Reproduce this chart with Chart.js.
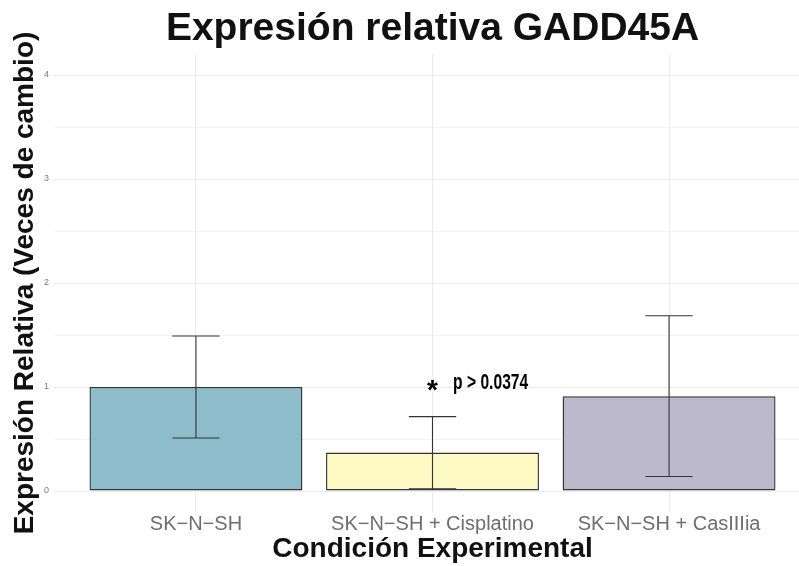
<!DOCTYPE html>
<html><head><meta charset="utf-8">
<script src="https://cdn.jsdelivr.net/npm/chart.js@4"></script>
<style>
html,body{margin:0;padding:0;overflow:hidden;background:#fff;width:799px;height:566px}
#wrap{position:absolute;left:0;top:0;width:811px;height:566px}
</style>
</head><body><div id="wrap"><canvas id="c" width="811" height="566"></canvas></div>
<script>
// ---- data ----
const categories = ['SK−N−SH', 'SK−N−SH + Cisplatino', 'SK−N−SH + CasIIIia'];
const meanValues = [1.00, 0.37, 0.91];
const errorLow = [0.51, 0.02, 0.14];
const errorHigh = [1.49, 0.715, 1.685];
const barColors = ['#8DBCCB', '#FFF9C4', '#BCB9CC'];
const yTickValues = [0, 0.5, 1, 1.5, 2, 2.5, 3, 3.5, 4];
const sigMark = '*';
const sigLabel = 'p > 0.0374';
const sigIndex = 1;
const chartTitle = 'Expresión relativa GADD45A';
const xTitle = 'Condición Experimental';
const yTitle = 'Expresión Relativa (Veces de cambio)';

const FONT = "'Liberation Sans', Arial, Helvetica, sans-serif";

const overlay = {
  id: 'overlay',
  afterDatasetsDraw(chart) {
    const {ctx, chartArea, scales: {x, y}} = chart;
    ctx.save();
    // error bars
    ctx.strokeStyle = '#333333';
    ctx.lineWidth = 1.1;
    const capHalf = x.getPixelForValue(1.1) - x.getPixelForValue(1);
    meanValues.forEach((v, i) => {
      const px = x.getPixelForValue(i + 1);
      const yl = y.getPixelForValue(errorLow[i]);
      const yh = y.getPixelForValue(errorHigh[i]);
      ctx.beginPath();
      ctx.moveTo(px, yl); ctx.lineTo(px, yh);
      ctx.moveTo(px - capHalf, yh); ctx.lineTo(px + capHalf, yh);
      ctx.moveTo(px - capHalf, yl); ctx.lineTo(px + capHalf, yl);
      ctx.stroke();
    });
    // significance annotation
    const ax = x.getPixelForValue(sigIndex + 1);
    const ay = y.getPixelForValue(1.04);
    ctx.fillStyle = '#000';
    ctx.font = `bold 28px ${FONT}`;
    ctx.textAlign = 'center';
    ctx.textBaseline = 'alphabetic';
    ctx.fillText(sigMark, ax, ay + 16);
    const tx = x.getPixelForValue(sigIndex + 1.087);
    const ty = y.getPixelForValue(0.98);
    ctx.save();
    ctx.translate(tx, ty);
    ctx.scale(0.71, 1);
    ctx.font = `bold 22px ${FONT}`;
    ctx.textAlign = 'left';
    ctx.fillText(sigLabel, 0, 0);
    ctx.restore();
    // title
    ctx.font = `bold 39px ${FONT}`;
    ctx.textAlign = 'center';
    ctx.fillStyle = '#111';
    ctx.fillText(chartTitle, (chartArea.left + chartArea.right) / 2, 39.5);
    ctx.restore();
  }
};

new Chart(document.getElementById('c'), {
  type: 'bar',
  data: {
    datasets: [{
      data: meanValues.map((v, i) => ({x: i + 1, y: v})),
      backgroundColor: barColors,
      borderColor: '#333333',
      borderWidth: 1.4,
      borderSkipped: false,
      categoryPercentage: 1,
      barPercentage: 0.9
    }]
  },
  options: {
    responsive: false,
    animation: false,
    layout: {padding: {top: 54.2, left: 0, right: 0, bottom: 0}},
    plugins: {legend: {display: false}, tooltip: {enabled: false}, title: {display: false}},
    scales: {
      x: {
        type: 'linear', min: 0.4, max: 3.6, offset: false,
        afterBuildTicks: s => { s.ticks = categories.map((c, i) => ({value: i + 1})); },
        afterFit: s => { s.height = 54.2; },
        ticks: {
          callback: v => categories[Math.round(v) - 1] || '',
          color: '#6e6e6e', font: {family: FONT, size: 20}, padding: 1,
          maxRotation: 0, autoSkip: false
        },
        grid: {color: '#EBEBEB', lineWidth: 1, drawTicks: false, offset: false},
        border: {display: false},
        title: {display: true, text: xTitle, color: '#111',
          font: {family: FONT, size: 28, weight: 'bold'}, padding: {top: 0, bottom: 0}}
      },
      y: {
        min: -0.2, max: 4.2,
        afterBuildTicks: s => { s.ticks = yTickValues.map(v => ({value: v})); },
        afterFit: s => { s.width = 54; },
        ticks: {
          callback: v => Number.isInteger(v) ? String(v) : '',
          color: '#7a7a7a', font: {family: FONT, size: 9}, padding: 5
        },
        grid: {color: '#EBEBEB', lineWidth: c => Number.isInteger(c.tick.value) ? 1 : 0.6, drawTicks: false},
        border: {display: false},
        title: {display: true, text: yTitle, color: '#111',
          font: {family: FONT, size: 28, weight: 'bold'}, padding: {top: 8.5, bottom: 0}}
      }
    }
  },
  plugins: [overlay]
});
</script>
</body></html>
